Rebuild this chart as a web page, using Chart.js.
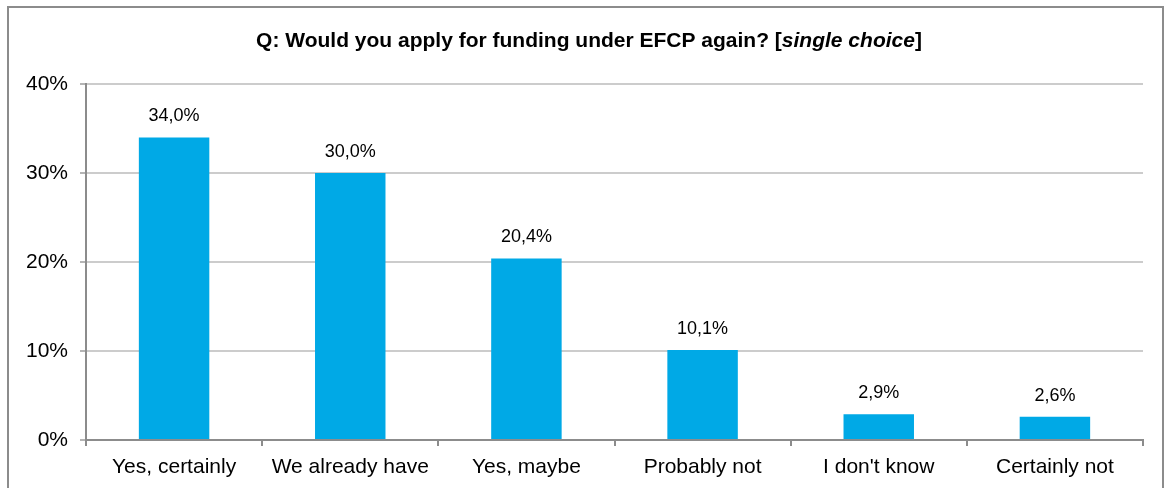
<!DOCTYPE html>
<html>
<head>
<meta charset="utf-8">
<style>
  html, body { margin: 0; padding: 0; background: #fff; }
  canvas { display: block; }
</style>
<script src="https://cdn.jsdelivr.net/npm/chart.js@4/dist/chart.umd.min.js"></script>
</head>
<body>
<canvas id="c" width="1165" height="488"></canvas>
<script>
const categories = ['Yes, certainly', 'We already have', 'Yes, maybe', 'Probably not', "I don't know", 'Certainly not'];
const shares = [34.0, 30.0, 20.4, 10.1, 2.9, 2.6];
const yTicks = [0, 10, 20, 30, 40];

const FONT = '"Liberation Sans", Arial, sans-serif';
const fmt = v => v.toFixed(1).replace('.', ',') + '%';

// Outer frame, title with italic segment, and value labels above bars
const decorations = {
  id: 'decorations',
  afterDraw(chart) {
    const ctx = chart.ctx;
    ctx.save();
    // frame
    ctx.strokeStyle = '#8c8c8c';
    ctx.lineWidth = 2;
    ctx.strokeRect(8, 7, 1155, 500);

    // title
    const parts = [
      { t: 'Q: Would you apply for funding under EFCP again? [', f: 'bold 21px ' + FONT },
      { t: 'single choice', f: 'italic bold 21px ' + FONT },
      { t: ']', f: 'bold 21px ' + FONT }
    ];
    let total = 0;
    parts.forEach(p => { ctx.font = p.f; p.w = ctx.measureText(p.t).width; total += p.w; });
    let x = 589 - total / 2;
    ctx.fillStyle = '#000';
    ctx.textBaseline = 'alphabetic';
    ctx.textAlign = 'left';
    parts.forEach(p => { ctx.font = p.f; ctx.fillText(p.t, x, 47); x += p.w; });

    // value labels
    ctx.font = '18px ' + FONT;
    ctx.textAlign = 'center';
    ctx.textBaseline = 'middle';
    const meta = chart.getDatasetMeta(0);
    meta.data.forEach((bar, i) => {
      ctx.fillText(fmt(shares[i]), bar.x, bar.y - 21);
    });
    ctx.restore();
  }
};

new Chart(document.getElementById('c'), {
  type: 'bar',
  data: {
    labels: categories,
    datasets: [{
      data: shares,
      backgroundColor: '#00a9e6',
      borderWidth: 0,
      categoryPercentage: 1,
      barPercentage: 0.4
    }]
  },
  options: {
    responsive: false,
    animation: false,
    devicePixelRatio: 1,
    layout: { padding: { left: 0, top: 84, right: 22, bottom: 0 } },
    plugins: {
      legend: { display: false },
      title: { display: false },
      tooltip: { enabled: false }
    },
    scales: {
      x: {
        grid: {
          offset: true,
          drawOnChartArea: false,
          drawTicks: true,
          tickLength: 6,
          tickColor: '#8c8c8c',
          lineWidth: 2
        },
        border: { display: true, color: '#8c8c8c', width: 2 },
        ticks: {
          color: '#000',
          font: { family: FONT, size: 21 },
          padding: 9,
          maxRotation: 0,
          autoSkip: false
        },
        afterFit(scale) { scale.height = 48; }
      },
      y: {
        min: 0,
        max: 40,
        afterBuildTicks(scale) { scale.ticks = yTicks.map(v => ({ value: v })); },
        grid: {
          color: '#cccccc',
          lineWidth: 2,
          tickLength: 6,
          tickColor: '#b4b4b4'
        },
        border: { display: true, color: '#8c8c8c', width: 2 },
        ticks: {
          color: '#000',
          font: { family: FONT, size: 21 },
          padding: 12,
          callback: v => v + '%'
        },
        afterFit(scale) { scale.width = 86; }
      }
    }
  },
  plugins: [decorations]
});
</script>
</body>
</html>
